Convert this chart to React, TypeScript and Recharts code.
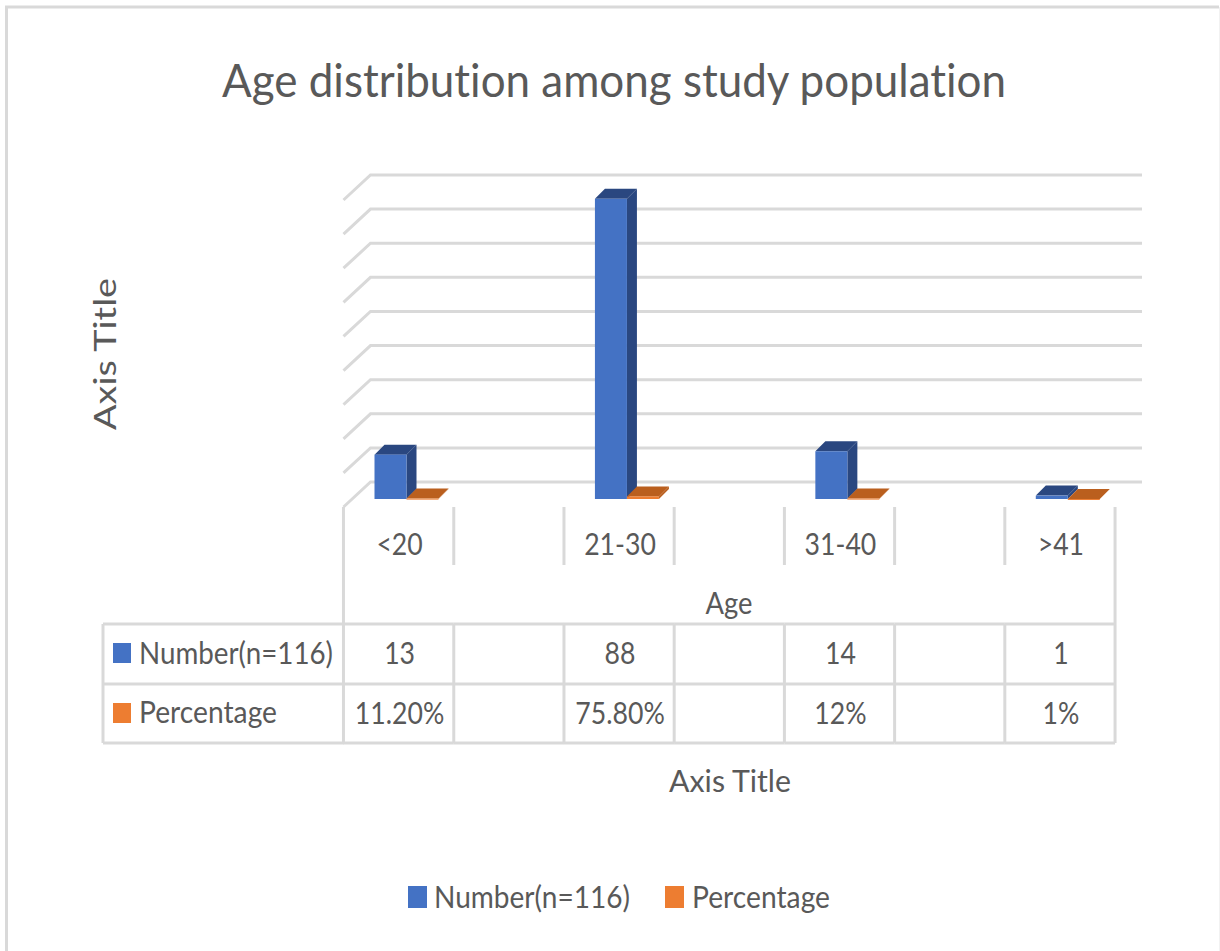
import { BarChart, Bar, XAxis, YAxis, CartesianGrid, Legend } from 'recharts'

const AGE_GROUPS = ['<20', '', '21-30', '', '31-40', '', '>41']
const NUMBERS = [13, null, 88, null, 14, null, 1]
const PERCENTAGES = [0.112, null, 0.758, null, 0.12, null, 0.01]
const NUMBER_LABELS = ['13', '', '88', '', '14', '', '1']
const PERCENT_LABELS = ['11.20%', '', '75.80%', '', '12%', '', '1%']
const VALUE_TICKS = [0, 10, 20, 30, 40, 50, 60, 70, 80, 90]

const data = AGE_GROUPS.map((age, i) => ({
  key: i,
  age,
  number: NUMBERS[i],
  percentage: PERCENTAGES[i],
}))

const BLUE = '#4472C4'
const BLUE_DARK = '#2A4780'
const ORANGE = '#ED7D31'
const ORANGE_DARK = '#BA5F1E'
const TEXT = '#595959'
const LINE = '#D9D9D9'
const FONT = 'Lato, sans-serif'

// floor depth of the fake 3D box, relative to the plane the bars stand on
const FRONT = { dx: -8, dy: 8 }
const BACK = { dx: 19, dy: -17 }
const BAR_DEPTH = 10

// table geometry below the plot
const LABEL_BASELINE = 555
const TICK_TOP = 507
const TICK_BOTTOM = 565
const ROW_TOP = 624
const ROW_MID = 684
const ROW_BOTTOM = 743
const TABLE_LEFT = 103
const HEADER_RIGHT = 344
const NARROW = 0.86

function Box3D(props: any) {
  const { x, y, width, height, value, fill, dark } = props
  if (value == null) return null
  const d = BAR_DEPTH
  return (
    <g>
      <polygon
        points={`${x + width},${y} ${x + width + d},${y - d} ${x + width + d},${y + height - d} ${x + width},${y + height}`}
        fill={dark}
      />
      <polygon
        points={`${x},${y} ${x + d},${y - d} ${x + width + d},${y - d} ${x + width},${y}`}
        fill={dark}
      />
      <rect x={x} y={y} width={width} height={Math.max(height, 1)} fill={fill} />
    </g>
  )
}

function GridLine(props: any) {
  const { x1, x2, y1 } = props
  const left = x1 + BACK.dx
  return (
    <polyline
      points={`${x1 + FRONT.dx},${y1 + FRONT.dy} ${left},${y1 + BACK.dy} ${x2 + BACK.dx},${y1 + BACK.dy}`}
      fill="none"
      stroke={LINE}
      strokeWidth={3}
    />
  )
}

function Vertical({ x, y1, y2 }: { x: number; y1: number; y2: number }) {
  return <line x1={x} x2={x} y1={y1} y2={y2} stroke={LINE} strokeWidth={3} />
}

function Horizontal({ x1, x2, y }: { x1: number; x2: number; y: number }) {
  return <line x1={x1} x2={x2} y1={y} y2={y} stroke={LINE} strokeWidth={3} />
}

function Txt({ x, y, children, anchor = 'middle', size = 31, length, squeeze = 1 }: any) {
  return (
    <text
      transform={`translate(${x},${y}) scale(${squeeze},1)`}
      textAnchor={anchor}
      fontFamily={FONT}
      fontSize={size}
      fill={TEXT}
      textLength={length}
      lengthAdjust={length ? 'spacingAndGlyphs' : undefined}
      style={{ fontVariantLigatures: 'none' }}
    >
      {children}
    </text>
  )
}

// every category tick paints its own column of the data table
function TableColumn(props: any) {
  const { x, index, visibleTicksCount } = props
  const step = 110.3
  const cx = x + FRONT.dx
  const left = cx - step / 2
  const right = cx + step / 2
  const last = index === visibleTicksCount - 1
  return (
    <g>
      {index === 0 && <Vertical x={left} y1={TICK_TOP} y2={ROW_BOTTOM} />}
      <Vertical x={right} y1={TICK_TOP} y2={last ? ROW_BOTTOM : TICK_BOTTOM} />
      {!last && <Vertical x={right} y1={ROW_TOP} y2={ROW_BOTTOM} />}
      {[ROW_TOP, ROW_MID, ROW_BOTTOM].map((y) => (
        <Horizontal key={y} x1={left} x2={right} y={y} />
      ))}
      <Txt x={cx + 1} y={LABEL_BASELINE} squeeze={NARROW}>{AGE_GROUPS[index]}</Txt>
      <Txt x={cx + 1} y={ROW_MID - 20} squeeze={NARROW}>{NUMBER_LABELS[index]}</Txt>
      <Txt x={cx + 1} y={ROW_BOTTOM - 19} squeeze={NARROW}>{PERCENT_LABELS[index]}</Txt>
      {index === 0 && (
        <g>
          <Vertical x={TABLE_LEFT} y1={ROW_TOP} y2={ROW_BOTTOM} />
          {[ROW_TOP, ROW_MID, ROW_BOTTOM].map((y) => (
            <Horizontal key={y} x1={TABLE_LEFT} x2={HEADER_RIGHT} y={y} />
          ))}
          <rect x={113} y={643} width={18} height={20} fill={BLUE} />
          <Txt x={139} y={664} anchor="start" length={194}>Number(n=116)</Txt>
          <rect x={113} y={703} width={18} height={20} fill={ORANGE} />
          <Txt x={139} y={723} anchor="start" length={138}>Percentage</Txt>
        </g>
      )}
    </g>
  )
}

function XTitles() {
  return (
    <g>
      <Txt x={729} y={614} length={47}>Age</Txt>
      <Txt x={730} y={792} length={122}>Axis Title</Txt>
    </g>
  )
}

function YTitle() {
  return (
    <text
      transform="translate(116,354) rotate(-90)"
      textAnchor="middle"
      fontFamily={FONT}
      fontSize={30}
      fill={TEXT}
      textLength={152}
      lengthAdjust="spacingAndGlyphs"
    >
      Axis Title
    </text>
  )
}

const LEGEND_SWATCH_X = [408, 665]
const LEGEND_TEXT_X = [434, 692]
const LEGEND_TEXT_W = [196, 138]

function ChartLegend({ payload }: any) {
  return (
    <svg width={1220} height={60} style={{ display: 'block' }}>
      {(payload ?? []).map((item: any, i: number) => (
        <g key={item.value}>
          <rect x={LEGEND_SWATCH_X[i]} y={10} width={19} height={22} fill={item.color} />
          <Txt x={LEGEND_TEXT_X[i]} y={32} anchor="start" length={LEGEND_TEXT_W[i]}>{item.value}</Txt>
        </g>
      ))}
    </svg>
  )
}

export default function App() {
  return (
    <div style={{ position: 'absolute', left: 0, top: 0, width: 1220, height: 951, background: '#fff' }}>
      <BarChart
        width={1220}
        height={951}
        data={data}
        barSize={32}
        barGap={0}
        margin={{ top: 192, right: 97, bottom: 0, left: 0 }}
      >
        <polyline points="6.5,951 6.5,7 1219,7" fill="none" stroke={LINE} strokeWidth={3} />
        <line x1={1219.5} x2={1219.5} y1={7} y2={951} stroke="#F2F2F2" strokeWidth={1} />
        <text
          x={614}
          y={97}
          textAnchor="middle"
          fontFamily={FONT}
          fontSize={47}
          fill={TEXT}
          textLength={784}
          lengthAdjust="spacingAndGlyphs"
          style={{ fontVariantLigatures: 'none' }}
        >
          Age distribution among study population
        </text>
        <CartesianGrid horizontal={<GridLine />} vertical={false} />
        <XAxis
          dataKey="key"
          type="category"
          height={452}
          axisLine={false}
          tickLine={false}
          interval={0}
          tick={<TableColumn />}
          label={{ content: () => <XTitles /> }}
        />
        <YAxis
          width={351.5}
          domain={[0, 90]}
          ticks={VALUE_TICKS}
          interval={0}
          tick={() => <g />}
          axisLine={false}
          tickLine={false}
          label={{ content: () => <YTitle /> }}
        />
        <Bar dataKey="number" name="Number(n=116)" fill={BLUE} isAnimationActive={false} shape={<Box3D dark={BLUE_DARK} />} />
        <Bar dataKey="percentage" name="Percentage" fill={ORANGE} isAnimationActive={false} shape={<Box3D dark={ORANGE_DARK} />} />
        <Legend
          verticalAlign="middle"
          content={<ChartLegend />}
          wrapperStyle={{ top: 876, left: 0, width: 1220 }}
        />
      </BarChart>
    </div>
  )
}
